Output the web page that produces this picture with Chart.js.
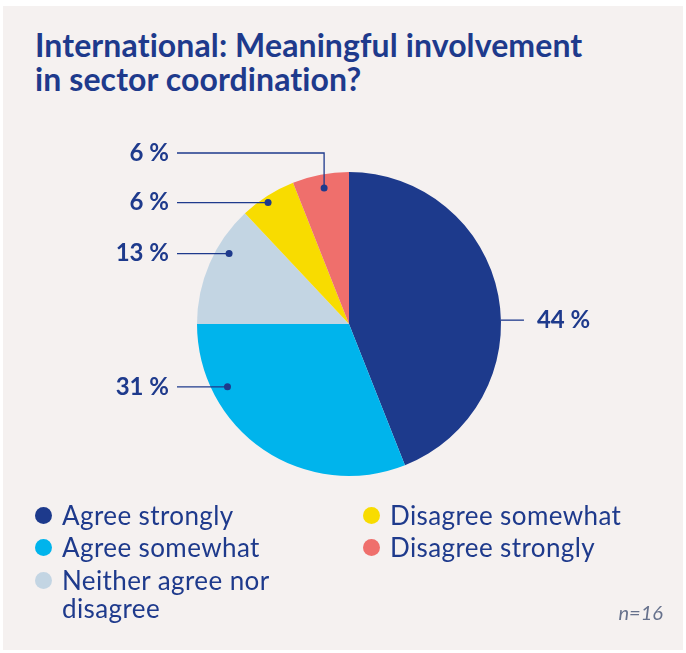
<!DOCTYPE html>
<html>
<head>
<meta charset="utf-8">
<script src="https://cdn.jsdelivr.net/npm/chart.js@4"></script>
<style>
  html, body { margin: 0; padding: 0; background: #fff; }
  body { width: 686px; height: 653px; position: relative; overflow: hidden; font-family: "Lato", sans-serif; color: #1e3a8c; }
  .panel { position: absolute; left: 3px; top: 6px; width: 680px; height: 644px; background: #f5f1f0; }
  h1 { position: absolute; left: 35px; top: 28px; margin: 0; font-size: 32px; line-height: 34px; font-weight: 700; letter-spacing: 0.1px; }
  #chart { position: absolute; left: 0; top: 0; }
  .legend { position: absolute; top: 500px; left: 0; width: 686px; font-size: 26px; letter-spacing: 0.4px; }
  .item { position: absolute; line-height: 28px; white-space: nowrap; }
  .item .dot { position: absolute; left: -27px; top: 6px; width: 17px; height: 17px; border-radius: 50%; }
  .note { position: absolute; right: 23px; top: 600px; font-size: 20px; font-style: italic; color: #66718c; }
</style>
</head>
<body>
<div class="panel"></div>
<h1>International: Meaningful involvement<br>in sector coordination?</h1>
<canvas id="chart" width="686" height="653"></canvas>
<div class="legend" id="legend"></div>
<div class="note">n=16</div>
<script>
const categories = ['Agree strongly', 'Agree somewhat', 'Neither agree nor disagree', 'Disagree somewhat', 'Disagree strongly'];
const shares = [44, 31, 13, 6, 6];
const valueLabels = ['44 %', '31 %', '13 %', '6 %', '6 %'];
const sliceColors = ['#1d3a8c', '#00b4ec', '#c3d5e3', '#f8dc00', '#ef6f6c'];

// where each leader line sits inside its slice
const leaders = [
  { frac: 0.559, rad: 1.0, side: 'right', dot: false },
  { frac: 0.755, rad: 0.9, side: 'left', dot: true },
  { frac: 0.65, rad: 0.915, side: 'left', dot: true },
  { frac: 0.44, rad: 0.96, side: 'left', dot: true },
  { frac: 0.52, rad: 0.91, side: 'left', dot: true, elbow: -19 }
];

// legend: two columns, first three then last two
const legendSpots = [[62, 1], [62, 33], [62, 66], [390, 1], [390, 33]];
const legendEl = document.getElementById('legend');
categories.forEach((name, i) => {
  const item = document.createElement('div');
  item.className = 'item';
  item.style.left = legendSpots[i][0] + 'px';
  item.style.top = legendSpots[i][1] + 'px';
  if (i === 2) item.innerHTML = 'Neither agree nor<br>disagree';
  else item.textContent = name;
  const dot = document.createElement('span');
  dot.className = 'dot';
  dot.style.background = sliceColors[i];
  item.prepend(dot);
  legendEl.appendChild(item);
});

const leaderLabels = {
  id: 'leaderLabels',
  afterDatasetsDraw(chart) {
    const ctx = chart.ctx;
    const arcs = chart.getDatasetMeta(0).data;
    ctx.save();
    ctx.strokeStyle = '#1e3a8c';
    ctx.fillStyle = '#1e3a8c';
    ctx.lineWidth = 1.3;
    ctx.font = 'bold 24px Lato';
    ctx.textBaseline = 'middle';
    arcs.forEach((arc, i) => {
      const cfg = leaders[i];
      const a = arc.startAngle + (arc.endAngle - arc.startAngle) * cfg.frac;
      const r = arc.outerRadius * cfg.rad;
      const px = arc.x + Math.cos(a) * r;
      const py = arc.y + Math.sin(a) * r;
      ctx.beginPath();
      if (cfg.side === 'right') {
        ctx.moveTo(px, py);
        ctx.lineTo(px + 23, py);
        ctx.stroke();
        ctx.textAlign = 'left';
        ctx.fillText(valueLabels[i], px + 36, py);
      } else {
        const ly = cfg.elbow !== undefined ? chart.chartArea.top + cfg.elbow : py;
        ctx.moveTo(177, ly);
        ctx.lineTo(px, ly);
        ctx.lineTo(px, py);
        ctx.stroke();
        ctx.textAlign = 'right';
        ctx.fillText(valueLabels[i], 169, ly);
      }
      if (cfg.dot) {
        ctx.beginPath();
        ctx.arc(px, py, 3.5, 0, Math.PI * 2);
        ctx.fill();
      }
    });
    ctx.restore();
  }
};

new Chart(document.getElementById('chart'), {
  type: 'pie',
  data: {
    labels: categories,
    datasets: [{
      data: shares,
      backgroundColor: sliceColors,
      borderWidth: 0
    }]
  },
  options: {
    responsive: false,
    animation: false,
    layout: { padding: { left: 197, right: 185, top: 172, bottom: 177 } },
    plugins: {
      legend: { display: false },
      tooltip: { enabled: false }
    }
  },
  plugins: [leaderLabels]
});
</script>
</body>
</html>
